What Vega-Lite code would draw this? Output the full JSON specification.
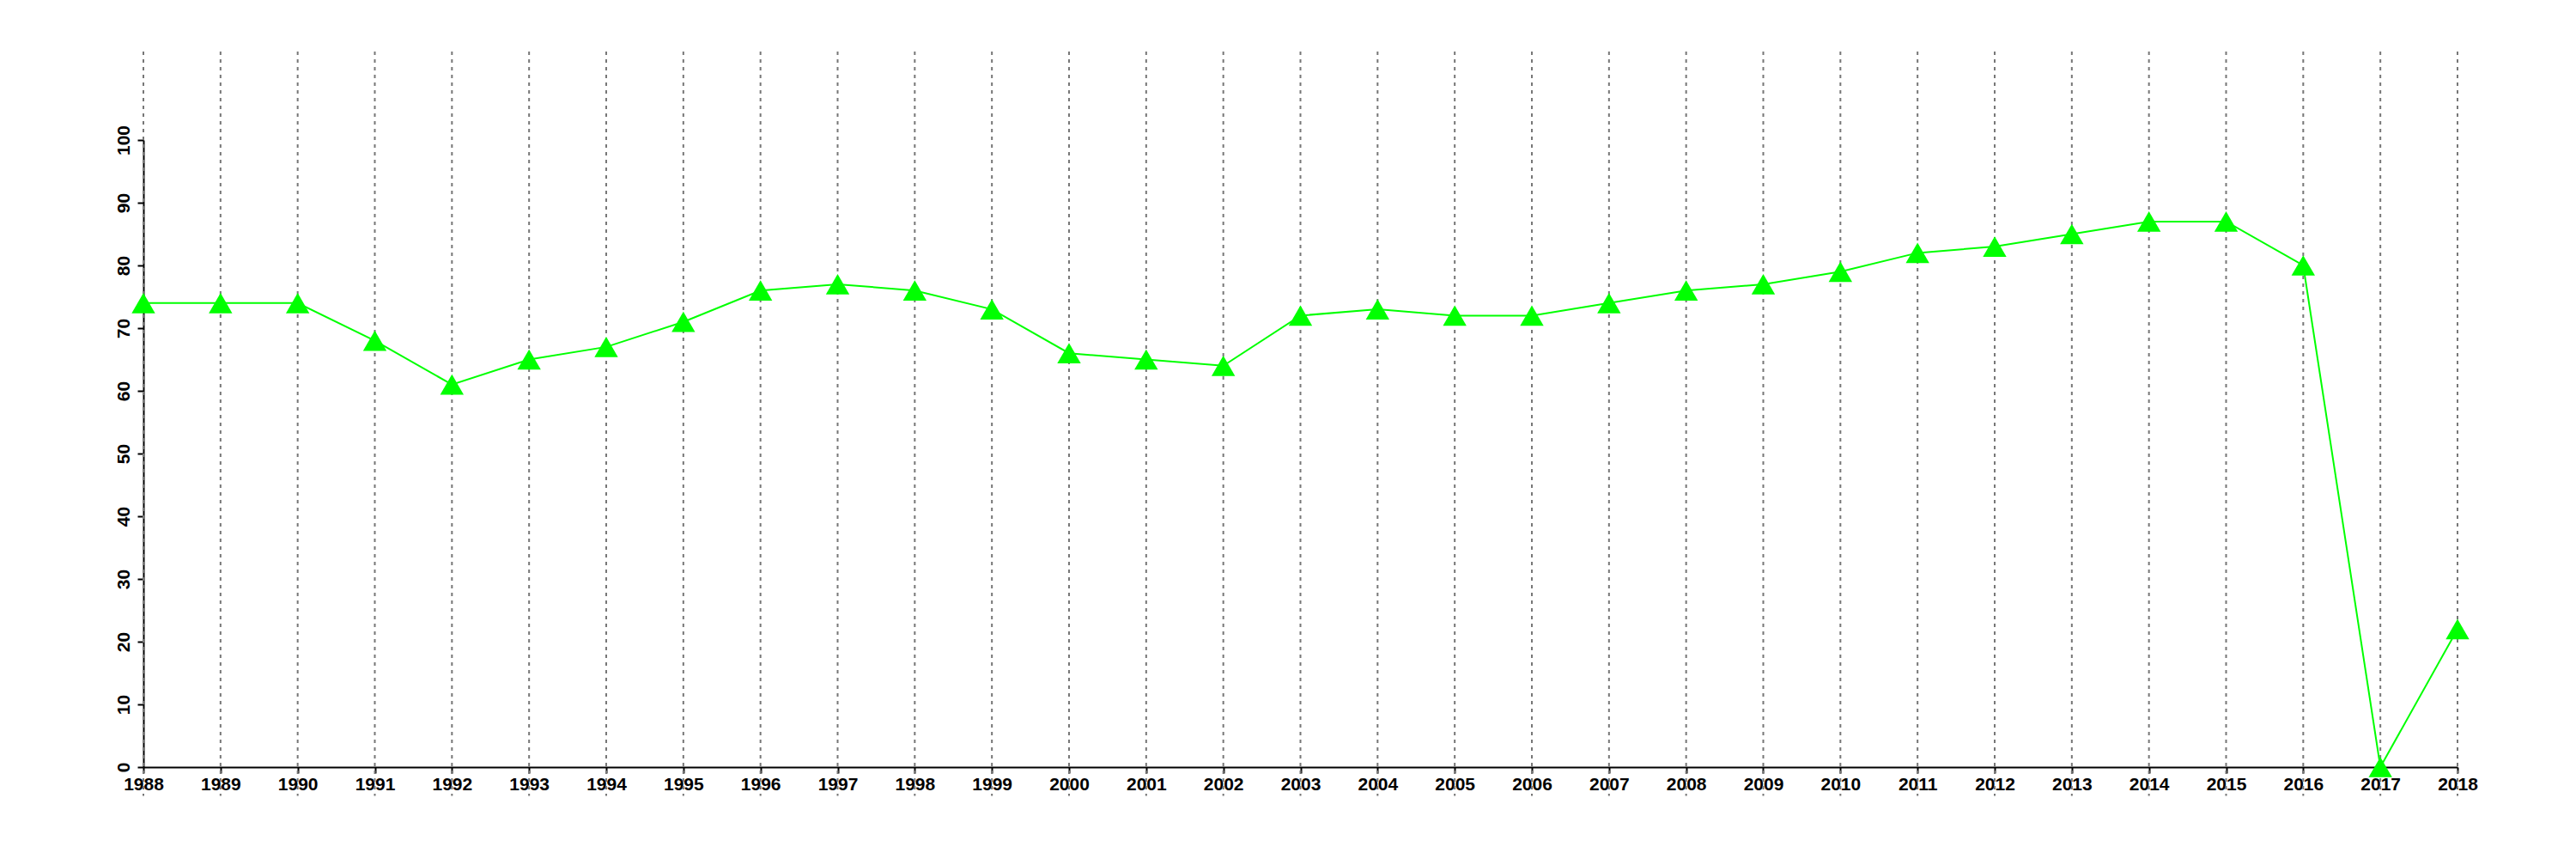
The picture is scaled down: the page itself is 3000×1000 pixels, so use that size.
{
  "$schema": "https://vega.github.io/schema/vega-lite/v6.json",
  "width": 2695,
  "height": 730,
  "autosize": {"type": "none"},
  "padding": {"left": 167, "top": 163, "right": 138, "bottom": 107},
  "background": "white",
  "config": {"view": {"stroke": null}},
  "data": {"values": [
    {"year": 1988, "value": 74}, {"year": 1989, "value": 74}, {"year": 1990, "value": 74},
    {"year": 1991, "value": 68}, {"year": 1992, "value": 61}, {"year": 1993, "value": 65},
    {"year": 1994, "value": 67}, {"year": 1995, "value": 71}, {"year": 1996, "value": 76},
    {"year": 1997, "value": 77}, {"year": 1998, "value": 76}, {"year": 1999, "value": 73},
    {"year": 2000, "value": 66}, {"year": 2001, "value": 65}, {"year": 2002, "value": 64},
    {"year": 2003, "value": 72}, {"year": 2004, "value": 73}, {"year": 2005, "value": 72},
    {"year": 2006, "value": 72}, {"year": 2007, "value": 74}, {"year": 2008, "value": 76},
    {"year": 2009, "value": 77}, {"year": 2010, "value": 79}, {"year": 2011, "value": 82},
    {"year": 2012, "value": 83}, {"year": 2013, "value": 85}, {"year": 2014, "value": 87},
    {"year": 2015, "value": 87}, {"year": 2016, "value": 80}, {"year": 2017, "value": 0},
    {"year": 2018, "value": 22}
  ]},
  "encoding": {
    "x": {
      "field": "year", "type": "quantitative",
      "scale": {"domain": [1988, 2018], "nice": false, "zero": false},
      "axis": {
        "title": null, "values": [1988,1989,1990,1991,1992,1993,1994,1995,1996,1997,1998,1999,2000,2001,2002,2003,2004,2005,2006,2007,2008,2009,2010,2011,2012,2013,2014,2015,2016,2017,2018],
        "format": "d", "grid": false, "domainColor": "black", "domainWidth": 2,
        "tickColor": "black", "tickWidth": 2, "tickSize": 7,
        "labelFont": "Liberation Sans", "labelFontWeight": "bold", "labelFontSize": 21,
        "labelColor": "black", "labelPadding": 2, "labelOverlap": false, "labelFlush": false
      }
    }
  },
  "layer": [
    {
      "mark": {"type": "rule", "clip": false, "color": "#777777", "strokeWidth": 2, "strokeDash": [4, 5]},
      "encoding": {
        "y": {"datum": 114.1, "type": "quantitative", "scale": {"domain": [0, 100], "nice": false}},
        "y2": {"datum": -4.6}
      }
    },
    {
      "mark": {"type": "line", "color": "#00FF00", "strokeWidth": 2},
      "encoding": {
        "y": {
          "field": "value", "type": "quantitative",
          "scale": {"domain": [0, 100], "nice": false},
          "axis": {
            "title": null, "values": [0,10,20,30,40,50,60,70,80,90,100], "grid": false,
            "domainColor": "black", "domainWidth": 2, "tickColor": "black", "tickWidth": 2, "tickSize": 7,
            "labelFont": "Liberation Sans", "labelFontWeight": "bold", "labelFontSize": 21,
            "labelColor": "black", "labelAngle": 270, "labelAlign": "center", "labelBaseline": "alphabetic",
            "labelPadding": 10, "labelOverlap": false, "labelFlush": false
          }
        }
      }
    },
    {
      "mark": {"type": "point", "shape": "triangle-up", "filled": true, "color": "#00FF00", "opacity": 1, "size": 750},
      "encoding": {
        "y": {"field": "value", "type": "quantitative"}
      }
    }
  ],
  "resolve": {"scale": {"y": "shared"}}
}
